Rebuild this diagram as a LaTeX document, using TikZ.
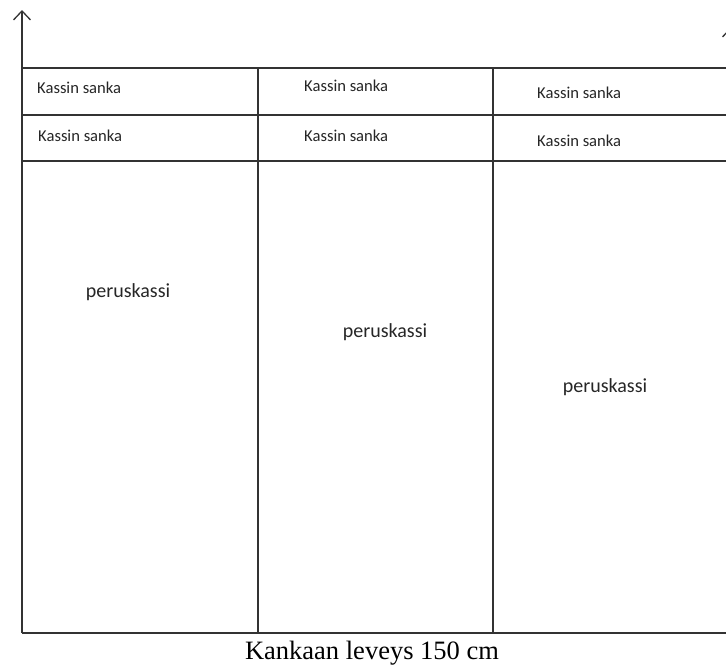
\documentclass[tikz,border=0pt]{standalone}
\usepackage{fontspec}
\setmainfont{Liberation Serif}
\setsansfont{Carlito}
\usetikzlibrary{positioning, arrows.meta}
\tikzset{frame line/.style={draw=black!80, line width=1.8pt},
  axis line/.style={draw=black!80, line width=1.3pt, -{Straight Barb[length=9pt, width=17pt]}},
  handle node/.style={font=\sffamily\fontsize{16.6}{16.6}\selectfont, text=black!85, anchor=west, inner sep=0pt},
  bag node/.style={font=\sffamily\fontsize{20}{20}\selectfont, text=black!85, inner sep=0pt},}

\begin{document}
\begin{tikzpicture}[x=1pt, y=-1pt]
        \useasboundingbox (0,0) rectangle (726,667);
        % Corners
        \coordinate (origin) at (22,633);
        \coordinate (top) at (22,10);
        \coordinate (far foot) at (731,633);
        \coordinate (far top) at (731,27);
        \coordinate (end) at (740,633);
        \coordinate (row 1 a) at (22,68);
        \coordinate (row 1 b) at (740,68);
        \coordinate (row 2 a) at (22,115);
        \coordinate (row 2 b) at (740,115);
        \coordinate (row 3 a) at (22,161);
        \coordinate (row 3 b) at (740,161);
        \coordinate (col 1 a) at (258,68);
        \coordinate (col 1 b) at (258,633);
        \coordinate (col 2 a) at (493,68);
        \coordinate (col 2 b) at (493,633);
        % Nodes
        \node[handle node] (h11) at (37,88) {Kassin sanka};
        \node[handle node] (h12) at (38,136) {Kassin sanka};
        \node[handle node] (h21) at (304,86) {Kassin sanka};
        \node[handle node] (h22) at (304,136) {Kassin sanka};
        \node[handle node] (h31) at (537,93) {Kassin sanka};
        \node[handle node] (h32) at (537,141) {Kassin sanka};
        \node[bag node] (b1) at (128,292) {peruskassi};
        \node[bag node] (b2) at (385,332) {peruskassi};
        \node[bag node] (b3) at (605,387) {peruskassi};
        \node[font=\fontsize{26.5}{26.5}\selectfont, inner sep=0pt] (width) at (372,653) {Kankaan leveys 150 cm};
        % Paths
        \draw[axis line] (origin) -- (top);
        \draw[axis line] (far foot) -- (far top);
        \draw[frame line] (origin) -- (end);
        \draw[frame line] (row 1 a) -- (row 1 b);
        \draw[frame line] (row 2 a) -- (row 2 b);
        \draw[frame line] (row 3 a) -- (row 3 b);
        \draw[frame line] (col 1 a) -- (col 1 b);
        \draw[frame line] (col 2 a) -- (col 2 b);
    \end{tikzpicture}
\end{document}
